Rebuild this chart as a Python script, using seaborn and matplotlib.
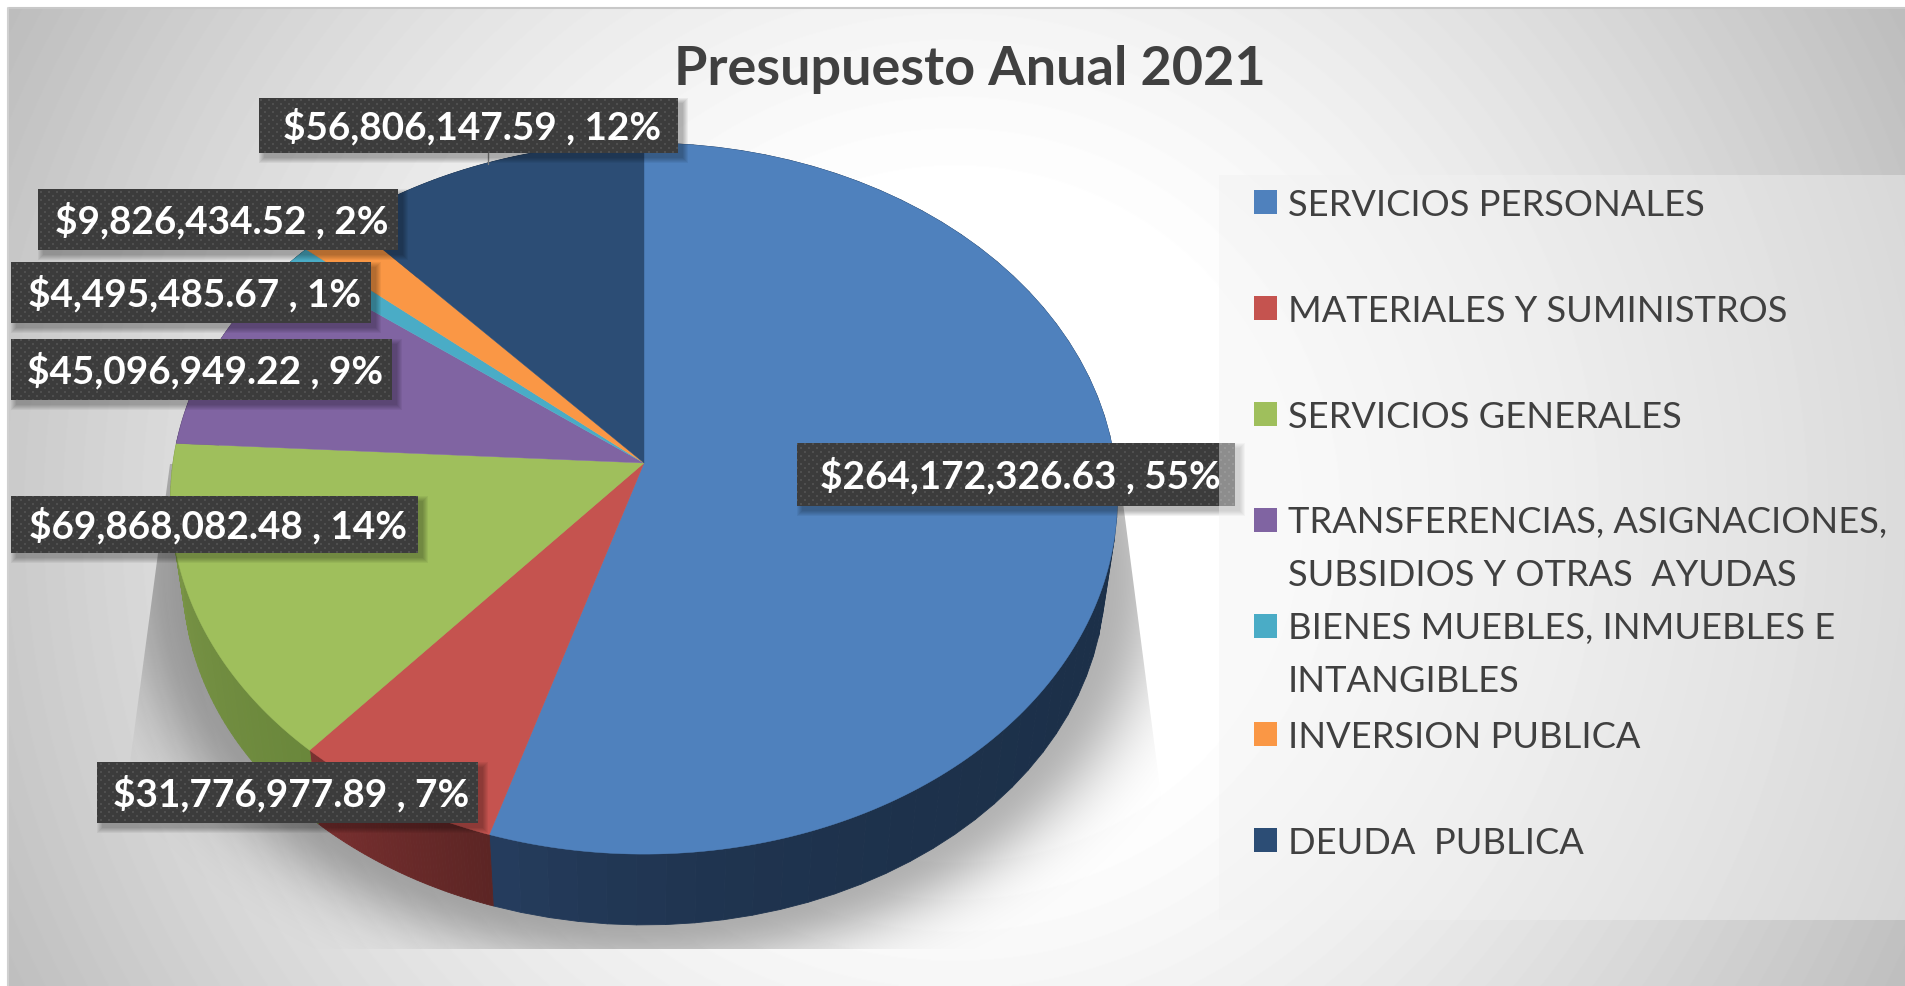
#!/usr/bin/env python3
import numpy as np
import seaborn as sns
import matplotlib.pyplot as plt
from matplotlib.patches import Rectangle, Polygon

# values of the chart
categorias = ["SERVICIOS PERSONALES", "MATERIALES Y SUMINISTROS", "SERVICIOS GENERALES",
              "TRANSFERENCIAS, ASIGNACIONES,\nSUBSIDIOS Y OTRAS  AYUDAS",
              "BIENES MUEBLES, INMUEBLES E\nINTANGIBLES", "INVERSION PUBLICA", "DEUDA  PUBLICA"]
montos = [264172326.63, 31776977.89, 69868082.48, 45096949.22, 4495485.67, 9826434.52, 56806147.59]
titulo = "Presupuesto Anual 2021"

colores = ["#4f81bd", "#c5534f", "#9fbf5c", "#8064a2", "#4aacc6", "#fa9745", "#2c4d75"]
# wall colours, start and end of each slice
lado_ini = ["#1c3049", "#5c2524", "#6a873b", "#4d3c62", "#2d677a", "#965a2a", "#1a2e46"]
lado_fin = ["#263d5e", "#7a3030", "#7d9749", "#4d3c62", "#2d677a", "#965a2a", "#1a2e46"]

# label boxes x0, x1, y0, y1 in pixels, same order as montos
cajas = [(797, 1235, 444, 507), (97, 478, 763, 824), (11, 418, 497, 554), (11, 392, 340, 401),
         (11, 371, 263, 324), (38, 398, 190, 251), (259, 678, 99, 154)]
filas_leyenda = [203, 309, 415, 521, 627, 735, 841]

sns.set_theme(style="white")
plt.rcParams["font.family"] = ["Lato", "DejaVu Sans"]

W, H = 1906, 987
fig = plt.figure(figsize=(W / 100, H / 100), dpi=100, facecolor="white")
ax = fig.add_axes([0, 0, 1, 1])
ax.set_axis_off()


def px(p):
    return p * 0.72


# background gradient
yy, xx = np.mgrid[9:H, 9:W]
r = np.hypot(xx - 955, yy - 515) / 1075
fondo = 1 - 0.26 * np.clip((r - 0.3) / 0.7, 0, 1) ** 1.25
ax.imshow(fondo, cmap="gray", vmin=0, vmax=1, extent=(9, W, H, 9), zorder=0, aspect="auto")
ax.plot([9, W], [8.5, 8.5], color="#c8c8c8", lw=1.5, zorder=1)
ax.plot([8.5, 8.5], [8.5, H], color="#d0d0d0", lw=1.5, zorder=1)

# pie geometry, perspective of a flat disc
cx, cy = 644, 464
ax_x, ax_y, k = 471, 352, 0.1


def aro(t, escala=1.0, y0=cy):
    s, c = np.sin(t), np.cos(t)
    w = 1 + k * c
    return cx + escala * ax_x * s / w, y0 - escala * ax_y * c / w


# soft shadow behind the pie
yy, xx = np.mgrid[465:950, 90:1200]
d = np.hypot((xx - cx) / 461, (yy - 577.5) / 346)
sombra = np.zeros(xx.shape + (4,))
sombra[..., 3] = 0.3 * np.exp(-(np.clip(d - 1, 0, None) / 0.14) ** 2)
img = ax.imshow(sombra, extent=(90, 1200, 950, 465), zorder=2, aspect="auto")
img.set_clip_path(Polygon([(170, 465), (1118, 465), (1181, 950), (105, 950)],
                          transform=ax.transData))

# slices
fracc = np.array(montos) / sum(montos)
bordes = np.concatenate([[0], np.cumsum(fracc)]) * 2 * np.pi
paleta = sns.color_palette(colores)
ini = np.array(sns.color_palette(lado_ini))
fin = np.array(sns.color_palette(lado_fin))
curva = [8, 1, 1, 1, 1, 1, 1]
for i in range(len(montos)):
    t = np.linspace(bordes[i], bordes[i + 1], 61)
    x1, y1 = aro(t)
    x2, y2 = aro(t, 0.974, 545)
    for j in range(60):
        mezcla = ((j + 0.5) / 60) ** curva[i]
        ax.fill([x1[j], x1[j + 1], x2[j + 1], x2[j]], [y1[j], y1[j + 1], y2[j + 1], y2[j]],
                color=ini[i] + (fin[i] - ini[i]) * mezcla, lw=0.6, zorder=3)
for i in range(len(montos)):
    t = np.linspace(bordes[i], bordes[i + 1], 200)
    x1, y1 = aro(t)
    ax.fill(np.r_[cx, x1], np.r_[cy, y1], color=paleta[i], lw=0.3, zorder=4)

# leader line of the top label
ax.plot([488, 488], [154, 165], color="#808080", lw=1, zorder=5)

# title
ax.text(970, 70, titulo, fontsize=px(54), fontweight="bold", color="#404040",
        ha="center", va="center", zorder=8)

# data labels with dotted fill
for caja, m, f in zip(cajas, montos, fracc):
    x0, x1, y0, y1 = caja
    for g in range(1, 7):
        ax.add_patch(Rectangle((x0 + 6 - g, y0 + 6 - g), x1 - x0 + 2 * g - 2, y1 - y0 + 2 * g - 2,
                               fc="black", ec="none", alpha=0.05, zorder=5))
    yy, xx = np.mgrid[y0:y1, x0:x1]
    puntos = (((xx % 8 < 2) & (yy % 8 < 2)) | (((xx + 4) % 8 < 2) & ((yy + 4) % 8 < 2)))
    tela = np.where(puntos, 0.31, 0.24)
    ax.imshow(tela, cmap="gray", vmin=0, vmax=1, extent=(x0, x1, y1, y0), zorder=6,
              aspect="auto", interpolation="nearest")
    ax.text((x0 + x1) / 2 + 4, (y0 + y1) / 2, f"${m:,.2f} , {f * 100:.0f}%", fontsize=px(38.7),
            fontweight="bold", color="white", ha="center", va="center", zorder=7)

# legend panel, on top of the labels
ax.add_patch(Rectangle((1219, 176), W - 1219, 921 - 176, fc="#f2f2f2", ec="none", alpha=0.45, zorder=8))
for nombre, fila, col in zip(categorias, filas_leyenda, paleta):
    ax.add_patch(Rectangle((1254, fila - 12), 23, 24, fc=col, ec="none", zorder=9))
    for n, linea in enumerate(nombre.split("\n")):
        ax.text(1288, fila + 2 + n * 53, linea, fontsize=px(36.2), color="#404040",
                ha="left", va="center", zorder=9)

ax.set_xlim(0, W)
ax.set_ylim(H, 0)
fig.savefig("out.png", dpi=100)
